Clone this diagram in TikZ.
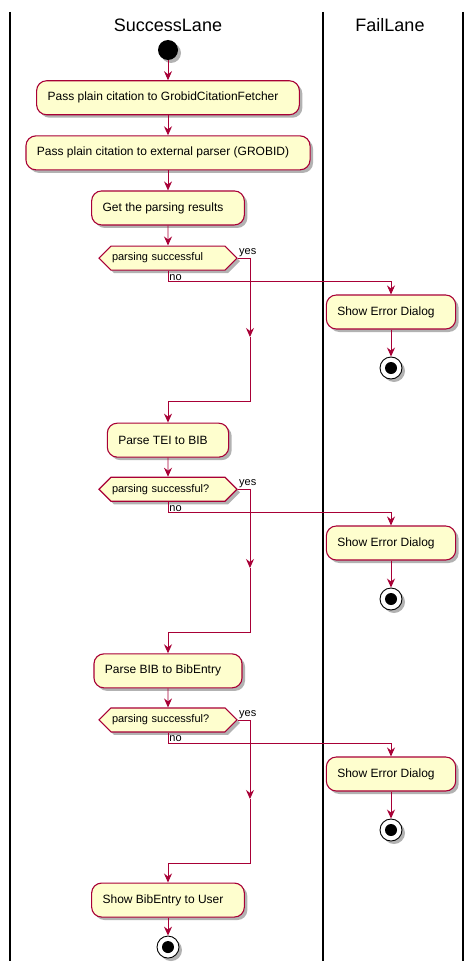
\documentclass[tikz,border=0pt]{standalone}
\usepackage{fontspec}
\setmainfont{Liberation Sans}
\usetikzlibrary{positioning,shapes.symbols,shadows,arrows.meta}
\definecolor{umlred}{HTML}{A80036}
\definecolor{umlfill}{HTML}{FEFECE}

\begin{document}
\begin{tikzpicture}[x=1pt, y=-1pt, node distance=20pt]
%define
\tikzstyle{umlshadow} = [drop shadow={shadow xshift=3pt, shadow yshift=-3pt, opacity=0.3, fill=black}]
\tikzstyle{activity} = [rectangle, rounded corners=10pt, minimum height=34pt, inner xsep=11pt, text centered, draw=umlred, fill=umlfill, line width=1.1pt, font=\fontsize{12}{14}\selectfont, execute at end node=\hspace{10pt}, umlshadow]
\tikzstyle{decision} = [signal, signal to=west and east, signal pointer angle=90, minimum height=24pt, inner xsep=1pt, inner ysep=2pt, text width=112pt, align=left, draw=umlred, fill=umlfill, line width=1.1pt, font=\fontsize{11}{13}\selectfont, umlshadow]
\tikzstyle{startnode} = [circle, fill=black, minimum size=20pt, inner sep=0pt, umlshadow]
\tikzstyle{stopnode} = [circle, draw=black, fill=white, line width=0.9pt, minimum size=22pt, inner sep=0pt, umlshadow, path picture={\fill[black] (path picture bounding box.center) circle (6pt);}]
\tikzstyle{arrow} = [-{Stealth[length=9pt, width=8pt, inset=3pt]}, draw=umlred, line width=0.9pt]
\tikzstyle{lane} = [line width=1.4pt]
\tikzstyle{lanetitle} = [font=\fontsize{18}{21}\selectfont]
\tikzstyle{branch} = [font=\fontsize{11}{13}\selectfont, inner sep=1pt]

\useasboundingbox (0,0) rectangle (474,971);

% swimlanes
\draw[lane] (10,12) -- (10,961);
\draw[lane] (323,12) -- (323,961);
\draw[lane] (463,12) -- (463,961);
\node[lanetitle](title_Success) at (168,25){SuccessLane};
\node[lanetitle](title_Fail) at (390,25){FailLane};

% success lane
\node[startnode](start) at (168,50){};
\node[activity, below = of start](act_Pass){Pass plain citation to GrobidCitationFetcher};
\node[activity, below = of act_Pass](act_Grobid){Pass plain citation to external parser (GROBID)};
\node[activity, below = of act_Grobid](act_Results){Get the parsing results};
\node[decision, below = of act_Results](dec_Results){parsing successful};
\node[activity, below = 152pt of dec_Results](act_TEI){Parse TEI to BIB};
\node[decision, below = 19pt of act_TEI](dec_TEI){parsing successful?};
\node[activity, below = 151.5pt of dec_TEI](act_BIB){Parse BIB to BibEntry};
\node[decision, below = 19pt of act_BIB](dec_BIB){parsing successful?};
\node[activity, below = 150pt of dec_BIB](act_Show){Show BibEntry to User};
\node[stopnode, below = 18pt of act_Show](stop_Show){};

% fail lane
\node[activity](err_Results) at (391,312){Show Error Dialog};
\node[stopnode, below = 27pt of err_Results](stop_Results){};
\node[activity](err_TEI) at (391,543){Show Error Dialog};
\node[stopnode, below = 27pt of err_TEI](stop_TEI){};
\node[activity](err_BIB) at (391,774){Show Error Dialog};
\node[stopnode, below = 27pt of err_BIB](stop_BIB){};

% bends of the yes branches
\coordinate (yes_Results) at (250,337);
\coordinate (join_Results) at (250,401);
\coordinate (yes_TEI) at (250,568);
\coordinate (join_TEI) at (250,632);
\coordinate (yes_BIB) at (250,799);
\coordinate (join_BIB) at (250,863);

\draw[arrow](start) -- (act_Pass);
\draw[arrow](act_Pass) -- (act_Grobid);
\draw[arrow](act_Grobid) -- (act_Results);
\draw[arrow](act_Results) -- (dec_Results);
\draw[arrow](dec_Results.east) node[branch, anchor=south west]{yes} -| (yes_Results);
\draw[arrow](yes_Results) -- (join_Results) -| (act_TEI.north);
\draw[arrow](dec_Results.south) -- ++(0,11) node[branch, anchor=south west]{no} -| (err_Results.north);
\draw[arrow](err_Results) -- (stop_Results);

\draw[arrow](act_TEI) -- (dec_TEI);
\draw[arrow](dec_TEI.east) node[branch, anchor=south west]{yes} -| (yes_TEI);
\draw[arrow](yes_TEI) -- (join_TEI) -| (act_BIB.north);
\draw[arrow](dec_TEI.south) -- ++(0,11) node[branch, anchor=south west]{no} -| (err_TEI.north);
\draw[arrow](err_TEI) -- (stop_TEI);

\draw[arrow](act_BIB) -- (dec_BIB);
\draw[arrow](dec_BIB.east) node[branch, anchor=south west]{yes} -| (yes_BIB);
\draw[arrow](yes_BIB) -- (join_BIB) -| (act_Show.north);
\draw[arrow](dec_BIB.south) -- ++(0,11) node[branch, anchor=south west]{no} -| (err_BIB.north);
\draw[arrow](err_BIB) -- (stop_BIB);
\draw[arrow](act_Show) -- (stop_Show);

\end{tikzpicture}
\end{document}
